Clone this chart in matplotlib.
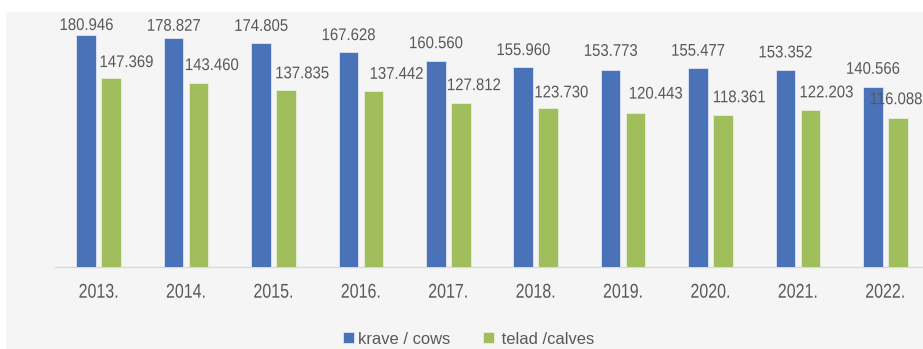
import matplotlib
matplotlib.use("Agg")
import matplotlib.pyplot as plt
from matplotlib.patches import Rectangle
from matplotlib.patheffects import AbstractPathEffect
from matplotlib.transforms import Affine2D
import numpy as np

# Data: cattle numbers (thousands)
years = ["2013.", "2014.", "2015.", "2016.", "2017.", "2018.", "2019.", "2020.", "2021.", "2022."]
cows = [180.946, 178.827, 174.805, 167.628, 160.560, 155.960, 153.773, 155.477, 153.352, 140.566]
calves = [147.369, 143.460, 137.835, 137.442, 127.812, 123.730, 120.443, 118.361, 122.203, 116.088]
series_names = ["krave / cows", " telad /calves"]

# Label placement nudges (pixels)
cow_dy = [5, 7, 12, 12, 13, 12, 14, 12, 13, 13]
calf_dx = [15, 13, 16, 23, 13, 13, 20, 16, 16, -2]
calf_dy = [11, 13, 12, 12, 13, 11, 14, 13, 13, 14]

FONT = ["Liberation Sans", "DejaVu Sans"]
TXT = "#595959"
BLUE = "#4a72b8"
GREEN = "#a0be5c"


class Condense(AbstractPathEffect):
    """Narrow the glyph outlines horizontally around their centre."""

    def __init__(self, sx):
        super().__init__()
        self.sx = sx

    def draw_path(self, renderer, gc, tpath, affine, rgbFace=None):
        ext = tpath.get_extents()
        cx = ext.x0 + 0.5 * ext.width
        t = Affine2D().translate(-cx, 0).scale(self.sx, 1).translate(cx, 0) + affine
        renderer.draw_path(gc, tpath, t, rgbFace)


W, H = 923, 349
fig = plt.figure(figsize=(W / 100, H / 100), dpi=100)
fig.patch.set_facecolor("white")
fig.add_artist(Rectangle((6 / W, 0), 1, (H - 12) / H, transform=fig.transFigure,
                         facecolor="#f5f5f5", edgecolor="none", zorder=-10))

ax = fig.add_axes([55 / W, (H - 267) / H, 874 / W, 256.4 / H])
ax.set_facecolor("none")

x = np.arange(len(years))
bw = 0.223
off = 0.143
ax.bar(x - off, cows, width=bw, color=BLUE, edgecolor="#dfe6f2", linewidth=0.6, label=series_names[0], zorder=3)
ax.bar(x + off, calves, width=bw, color=GREEN, edgecolor="#e8efdc", linewidth=0.6, label=series_names[1], zorder=3)

ax.set_xlim(-0.5, len(years) - 0.5)
ax.set_ylim(0, 200)

val_fx = [Condense(0.88)]
for i in range(len(years)):
    ax.annotate(f"{cows[i]:.3f}", xy=(x[i] - off, cows[i]), xytext=(0, cow_dy[i]),
                textcoords="offset pixels", ha="center", va="baseline",
                fontsize=12.2, color=TXT, family=FONT, annotation_clip=False,
                path_effects=val_fx)
    ax.annotate(f"{calves[i]:.3f}", xy=(x[i] + off, calves[i]), xytext=(calf_dx[i], calf_dy[i]),
                textcoords="offset pixels", ha="center", va="baseline",
                fontsize=12.2, color=TXT, family=FONT, annotation_clip=False,
                path_effects=val_fx)

ax.set_xticks(x)
ax.set_xticklabels(years, fontsize=14.4, color=TXT, family=FONT)
for lbl in ax.get_xticklabels():
    lbl.set_path_effects([Condense(0.8)])
ax.tick_params(axis="x", length=0, pad=11.3)
ax.set_yticks([])
for s in ["left", "right", "top"]:
    ax.spines[s].set_visible(False)
ax.spines["bottom"].set_color("#d9d9d9")
ax.spines["bottom"].set_linewidth(1.0)

leg = fig.legend(loc="center", bbox_to_anchor=(469 / W, (H - 339) / H), ncol=2,
                 frameon=False, prop={"family": FONT, "size": 11.9},
                 handlelength=0.65, handleheight=0.65, handletextpad=0.22,
                 columnspacing=2.0, labelcolor=TXT)

fig.savefig("out.png", dpi=100, facecolor=fig.get_facecolor())
